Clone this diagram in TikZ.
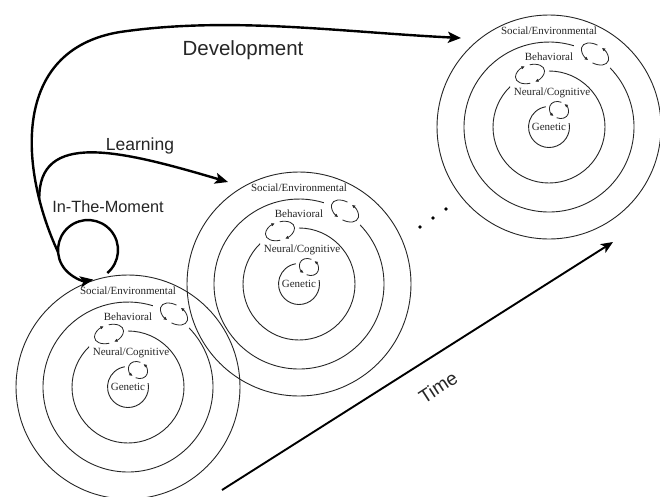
\documentclass[tikz,border=0pt]{standalone}
\usepackage{fontspec}
\setmainfont{Liberation Serif}
\newfontfamily\arialf{Liberation Sans}
\usetikzlibrary{arrows.meta}
\newcommand\rloopccw[5]{%
  \begin{scope}[shift={(#1,#2)},rotate=#3]
    \draw[recip] (260:#4 and #5) arc[start angle=260,end angle=100,x radius=#4,y radius=#5];
    \draw[recip] (80:#4 and #5) arc[start angle=80,end angle=-80,x radius=#4,y radius=#5];
  \end{scope}}
\newcommand\rloopcw[5]{%
  \begin{scope}[shift={(#1,#2)},rotate=#3]
    \draw[recip] (100:#4 and #5) arc[start angle=100,end angle=260,x radius=#4,y radius=#5];
    \draw[recip] (-80:#4 and #5) arc[start angle=-80,end angle=80,x radius=#4,y radius=#5];
  \end{scope}}
\begin{document}
\begin{tikzpicture}[x=1pt,y=-1pt,
  ring/.style={line width=0.9pt, draw=black!85},
  recip/.style={line width=0.8pt, draw=black!85, -{Latex[length=3.4pt,width=3.4pt]}},
  lab/.style={font=\fontsize{11}{12}\selectfont, inner sep=0pt, text=black!85},
  biglab/.style={font=\arialf, inner sep=0pt, text=black!85},
  bigarrow/.style={line width=2.4pt, -{Stealth[length=13pt,width=11pt,inset=3pt]}},
  timearrow/.style={line width=1.9pt, -{Stealth[length=12pt,width=10pt,inset=3pt]}},
  dotmark/.style={circle, fill=black, inner sep=0pt, minimum size=3.6pt},
  ringset/.pic={
    \draw[ring] (0,0) circle[radius=112];
    \draw[ring] (-44:85) arc[start angle=-44,end angle=287,radius=85];
    \draw[ring] (-90:56) arc[start angle=-90,end angle=226,radius=56];
    \draw[ring] (-11:20.5) arc[start angle=-11,end angle=261,radius=20.5];
    \node[lab] (-soc) at (0,-96) {Social/Environmental};
    \node[lab] (-beh) at (0,-70) {Behavioral};
    \node[lab] (-neu) at (3,-34) {Neural/Cognitive};
    \node[lab] (-gen) at (0,0) {Genetic};
    \rloopccw{46}{-73}{-32}{15}{9}
    \rloopcw{-19}{-53}{18}{15}{9}
    \rloopccw{10}{-17}{-30}{10}{8}
  }
]
\clip (0,0) rectangle (660,496);
\fill[white] (0,0) rectangle (660,496);

% ring sets
\pic (s1) at (128,387) {ringset};
\pic (s2) at (299,284) {ringset};
\pic (s3) at (549,127) {ringset};

% labels
\node[biglab, font=\arialf\fontsize{20.5}{24}\selectfont] (dev) at (243,50) {Development};
\node[biglab, font=\arialf\fontsize{17.5}{21}\selectfont] (learn) at (140,146) {Learning};
\node[biglab, font=\arialf\fontsize{16.3}{20}\selectfont] (itm) at (108,207) {In-The-Moment};
\node[biglab, font=\arialf\fontsize{19}{23}\selectfont, rotate=33] (timelab) at (438,387) {Time};

% coordinates for connectors
\coordinate (itmC) at (88,250);
\coordinate (itmL) at (58,252);
\coordinate (itmS) at (107.3,273);
\coordinate (devend) at (461,38);
\coordinate (learnend) at (228,182);
\coordinate (t0) at (222,490);
\coordinate (t1) at (613,242);

% in-the-moment self loop
\draw[bigarrow] (itmS) arc[start angle=50,end angle=-280,radius=30];

% development
\draw[bigarrow] (itmL) .. controls (20,170) and (10,50) .. (120,32)
  coordinate[pos=0.2] (branch)
  .. controls (230,16) and (340,32) .. (devend);

% learning
\draw[bigarrow] (branch) .. controls (38,130) and (120,150) .. (learnend);

% time
\draw[timearrow] (t0) -- (t1);

% ellipsis dots
\node[dotmark] (d1) at (420,227) {};
\node[dotmark] (d2) at (433,218) {};
\node[dotmark] (d3) at (446,209) {};
\end{tikzpicture}
\end{document}
